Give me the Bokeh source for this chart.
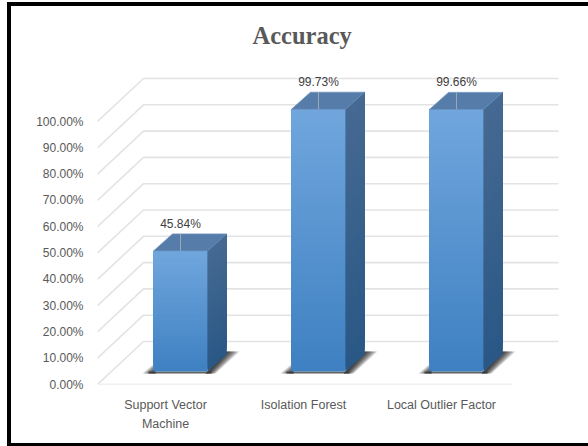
from bokeh.embed import file_html
from bokeh.models import FixedTicker, InlineStyleSheet, Label, NumeralTickFormatter, Range1d, Title
from bokeh.plotting import figure
from bokeh.resources import INLINE

# Chart content
categories = ["Support Vector\nMachine", "Isolation Forest", "Local Outlier Factor"]
accuracy = [0.4584, 0.9973, 0.9966]
accuracy_labels = ["45.84%", "99.73%", "99.66%"]
value_ticks = [0.0, 0.1, 0.2, 0.3, 0.4, 0.5, 0.6, 0.7, 0.8, 0.9, 1.0]

# Pixel geometry of the drawing, expressed through the two axes
WIDTH, HEIGHT = 588, 446
LEFT, BOTTOM, TOP = 97, 384, 48
PX_PER_CAT = 138.0
PX_PER_UNIT = 263.0
X0 = 165.0
TEXT_FONT = "Liberation Sans"
TEXT_SIZE = "12px"


def cx(px):
    return px / PX_PER_CAT


def cy(px):
    return px / PX_PER_UNIT


BAR_SHIFT = cx(15)
BAR_HALF = cx(27)
BAR_DX, BAR_DY = cx(19), cy(17)
WALL_DX, WALL_DY = cx(46), cy(43)
FLOOR_LIFT = cy(13)
AXIS_START, AXIS_END = cx(LEFT - X0), cx(512 - X0)
STEP = cy(2)


def mix(a, b, t):
    rgb = [round(a[i] + (b[i] - a[i]) * t) for i in range(3)]
    return "#%02x%02x%02x" % tuple(rgb)


# Frame line on three sides of the page, laid over the canvas
page_frame = InlineStyleSheet(css="""
:host::after {
  content: "";
  position: absolute;
  left: 7px; top: 2px; right: 0; bottom: 0;
  border-left: 4px solid #000;
  border-top: 4px solid #000;
  border-bottom: 3px solid #000;
  pointer-events: none;
}
""")

p = figure(
    width=WIDTH, height=HEIGHT, output_backend="svg", toolbar_location=None,
    x_range=Range1d(cx(LEFT - X0), cx(WIDTH - X0)),
    y_range=Range1d(0, cy(BOTTOM - TOP)),
    min_border_left=LEFT, min_border_right=0, min_border_bottom=HEIGHT - BOTTOM,
    min_border_top=TOP, outline_line_color=None, border_fill_color="white",
    stylesheets=[page_frame],
)
p.grid.visible = False

p.title = Title(
    text="Accuracy", align="left", offset=155, text_color="#595959",
    text_font="Liberation Serif", text_font_style="bold", text_font_size="24.5px",
    standoff=0,
)

# Value axis
ya = p.yaxis[0]
ya.ticker = FixedTicker(ticks=value_ticks)
ya.formatter = NumeralTickFormatter(format="0.00%")
ya.axis_line_color = None
ya.major_tick_line_color = None
ya.minor_tick_line_color = None
ya.major_tick_out = 0
ya.major_label_standoff = 14
ya.major_label_text_font = TEXT_FONT
ya.major_label_text_font_size = TEXT_SIZE
ya.major_label_text_color = "#595959"

# Category axis
xa = p.xaxis[0]
xa.ticker = FixedTicker(ticks=list(range(len(categories))))
xa.major_label_overrides = {i: c for i, c in enumerate(categories)}
xa.axis_line_color = None
xa.major_tick_line_color = None
xa.minor_tick_line_color = None
xa.major_tick_out = 0
xa.major_label_standoff = 13
xa.major_label_text_font = TEXT_FONT
xa.major_label_text_font_size = "12.5px"
xa.major_label_text_color = "#595959"
xa.major_label_text_line_height = 1.4

# Floor edge, side wall edges and back wall lines
GRID = "#e3e3e3"
for v in value_ticks:
    p.line([AXIS_START, AXIS_START + WALL_DX, AXIS_END + WALL_DX],
           [v, v + WALL_DY, v + WALL_DY], line_color=GRID, line_width=1.6)
p.line([AXIS_START, AXIS_END], [0, 0], line_color=GRID, line_width=1.6)

# Bars
for i, v in enumerate(accuracy):
    c = i + BAR_SHIFT
    l, r = c - BAR_HALF, c + BAR_HALF
    b, t = FLOOR_LIFT, FLOOR_LIFT + v

    # cast shadow on the floor, built up from translucent layers
    for k in range(8):
        f = 1 - k / 8
        p.patch(
            [r - cx(2), r + BAR_DX, r + BAR_DX + cx(13) * f, r + cx(8) * f],
            [b - cy(2), b + cy(20), b + cy(20), b - cy(2)],
            fill_color="#000000", fill_alpha=0.15, line_color=None,
        )
        p.patch(
            [l + cx(2), l - cx(11) * f, l + cx(2)],
            [b - cy(2), b - cy(2), b + cy(9) * f],
            fill_color="#000000", fill_alpha=0.15, line_color=None,
        )
    p.quad(left=[l - cx(5)], right=[r + cx(4)], bottom=[b - cy(2)], top=[b],
           fill_color="#3a3a3a", fill_alpha=0.8, line_color=None)

    # front and side faces with a vertical colour ramp: each layer covers
    # everything above its lower edge, so the ramp has no seams
    slices = round((t - b) / STEP)
    for s in range(slices):
        s0 = b + s * STEP
        f = s / max(slices - 1, 1)
        p.quad(left=[l], right=[r], bottom=[s0], top=[t],
               fill_color=mix((63, 128, 194), (112, 166, 221), f), line_color=None)
        p.patch([r, r + BAR_DX, r + BAR_DX, r],
                [s0, s0 + BAR_DY, t + BAR_DY, t],
                fill_color=mix((42, 88, 134), (70, 106, 146), f), line_color=None)

    # top face
    p.patch([l, r, r + BAR_DX, l + BAR_DX],
            [t, t, t + BAR_DY, t + BAR_DY],
            fill_color="#567ca9", line_color="#6d93bf", line_width=0.8)

    # leader line and data label
    p.segment([c], [t], [c], [t + BAR_DY], line_color="#9aa7b5", line_width=1)
    p.add_layout(Label(
        x=c, y=t + BAR_DY + cy(3), text=accuracy_labels[i],
        text_align="center", text_baseline="bottom",
        text_font=TEXT_FONT, text_font_size=TEXT_SIZE,
        text_color="#404040",
    ))

open("out.html", "w").write(file_html(p, INLINE))
